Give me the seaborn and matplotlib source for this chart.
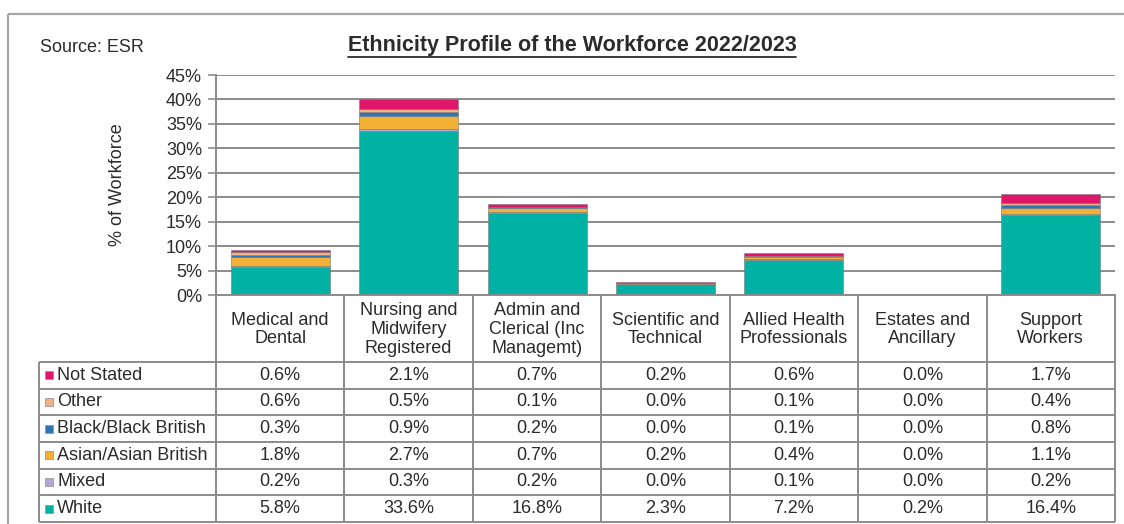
import matplotlib
matplotlib.use("Agg")
import matplotlib.pyplot as plt
from matplotlib.lines import Line2D
from matplotlib.patches import Rectangle
import seaborn as sns
import numpy as np

# Staff groups (table header labels)
categories = [
    "Medical and\nDental",
    "Nursing and\nMidwifery\nRegistered",
    "Admin and\nClerical (Inc\nManagemt)",
    "Scientific and\nTechnical",
    "Allied Health\nProfessionals",
    "Estates and\nAncillary",
    "Support\nWorkers",
]

# Percentage of the workforce by ethnicity, one list per group
white = [5.8, 33.6, 16.8, 2.3, 7.2, 0.2, 16.4]
mixed = [0.2, 0.3, 0.2, 0.0, 0.1, 0.0, 0.2]
asian = [1.8, 2.7, 0.7, 0.2, 0.4, 0.0, 1.1]
black = [0.3, 0.9, 0.2, 0.0, 0.1, 0.0, 0.8]
other = [0.6, 0.5, 0.1, 0.0, 0.1, 0.0, 0.4]
not_stated = [0.6, 2.1, 0.7, 0.2, 0.6, 0.0, 1.7]

y_ticks = [0, 5, 10, 15, 20, 25, 30, 35, 40, 45]

# stacking order, bottom to top
series = [
    ("White", white, "#00B2A4"),
    ("Mixed", mixed, "#B4A7D6"),
    ("Asian/Asian British", asian, "#F2B035"),
    ("Black/Black British", black, "#2E75B6"),
    ("Other", other, "#F4B183"),
    ("Not Stated", not_stated, "#E0166A"),
]
# table rows, top to bottom
table_rows = series[::-1]

sns.set_theme(style="white")
plt.rcParams["font.family"] = ["Liberation Sans", "DejaVu Sans"]
TXT = "#2b2b2b"
GRID = "#8c8c8c"
FS = 13

W, H = 1124, 524
fig = plt.figure(figsize=(W / 100, H / 100), dpi=100)
fig.patch.set_facecolor("white")


def fx(x):
    return x / W


def fy(y):
    return 1 - y / H


def hline(x0, x1, y, color=GRID, lw=1.4):
    fig.add_artist(Line2D([fx(x0), fx(x1)], [fy(y), fy(y)], color=color, lw=lw,
                          transform=fig.transFigure, solid_capstyle="butt"))


def vline(x, y0, y1, color=GRID, lw=1.4):
    fig.add_artist(Line2D([fx(x), fx(x)], [fy(y0), fy(y1)], color=color, lw=lw,
                          transform=fig.transFigure, solid_capstyle="butt"))


# plot area
ax_l, ax_r, ax_t, ax_b = 216, 1115, 75, 295
ax = fig.add_axes([fx(ax_l), fy(ax_b), fx(ax_r - ax_l), (ax_b - ax_t) / H])

cum = np.zeros(len(categories))
for name, vals, col in series:
    sns.barplot(x=categories, y=vals, bottom=cum, color=col, saturation=1,
                width=0.77, edgecolor="#7a7a7a", linewidth=0.4, ax=ax)
    cum = cum + np.array(vals)

ax.set_ylim(0, 45)
ax.set_xlim(-0.5, len(categories) - 0.5)
ax.set_yticks(y_ticks)
ax.set_yticklabels([f"{t}%" for t in y_ticks], fontsize=FS, color=TXT)
ax.set_xticks([])
ax.set_xlabel("")
ax.set_ylabel("% of Workforce", fontsize=FS, color=TXT, labelpad=29)
ax.set_axisbelow(True)
ax.yaxis.grid(True, color=GRID, lw=1.4)
ax.tick_params(axis="y", left=True, length=6, width=1.2, color=GRID, pad=4)
for s in ["top", "right"]:
    ax.spines[s].set_visible(False)
ax.spines["left"].set_color(GRID)
ax.spines["left"].set_linewidth(1.4)
ax.spines["bottom"].set_color(GRID)
ax.spines["bottom"].set_linewidth(1.4)
ax.patch.set_alpha(0)

# outer frame
hline(8, 1124, 14, color="#a6a6a6", lw=1.6)
vline(8, 14, 524, color="#a6a6a6", lw=1.6)

# source note and title
fig.text(fx(40), fy(48), "Source: ESR", fontsize=FS, color=TXT, va="center", ha="left")
title = fig.text(fx(572), fy(45), "Ethnicity Profile of the Workforce 2022/2023",
                 fontsize=15.5, fontweight="bold", color=TXT, ha="center", va="center")
fig.canvas.draw()
bb = title.get_window_extent(fig.canvas.get_renderer())
fig.add_artist(Line2D([bb.x0 / W, bb.x1 / W], [(bb.y0 - 1) / H, (bb.y0 - 1) / H],
                      color=TXT, lw=1.3, transform=fig.transFigure))

# data table below the bars
n = len(categories)
col_w = (ax_r - ax_l) / n
col_x = [ax_l + i * col_w for i in range(n + 1)]
tbl_left = 39
head_top, head_bot = 295, 362
row_h = (522 - head_bot) / len(table_rows)
row_y = [head_bot + i * row_h for i in range(len(table_rows) + 1)]

for x in col_x:
    vline(x, head_top, row_y[-1])
vline(tbl_left, head_bot, row_y[-1])
for y in row_y:
    hline(tbl_left, ax_r, y)

for i, lab in enumerate(categories):
    cx = (col_x[i] + col_x[i + 1]) / 2
    fig.text(fx(cx), fy((head_top + head_bot) / 2 + 1), lab, fontsize=FS, color=TXT,
             ha="center", va="center", linespacing=1.12, multialignment="center")

for r, (name, vals, col) in enumerate(table_rows):
    cy = (row_y[r] + row_y[r + 1]) / 2
    fig.add_artist(Rectangle((fx(45), fy(cy + 4)), 8 / W, 8 / H, facecolor=col,
                             edgecolor="#9a9a9a", lw=0.6, transform=fig.transFigure))
    fig.text(fx(57), fy(cy), name, fontsize=FS, color=TXT, ha="left", va="center")
    for i, v in enumerate(vals):
        cx = (col_x[i] + col_x[i + 1]) / 2
        fig.text(fx(cx), fy(cy), f"{v:.1f}%", fontsize=FS, color=TXT,
                 ha="center", va="center")

fig.savefig("out.png", dpi=100, facecolor="white")
